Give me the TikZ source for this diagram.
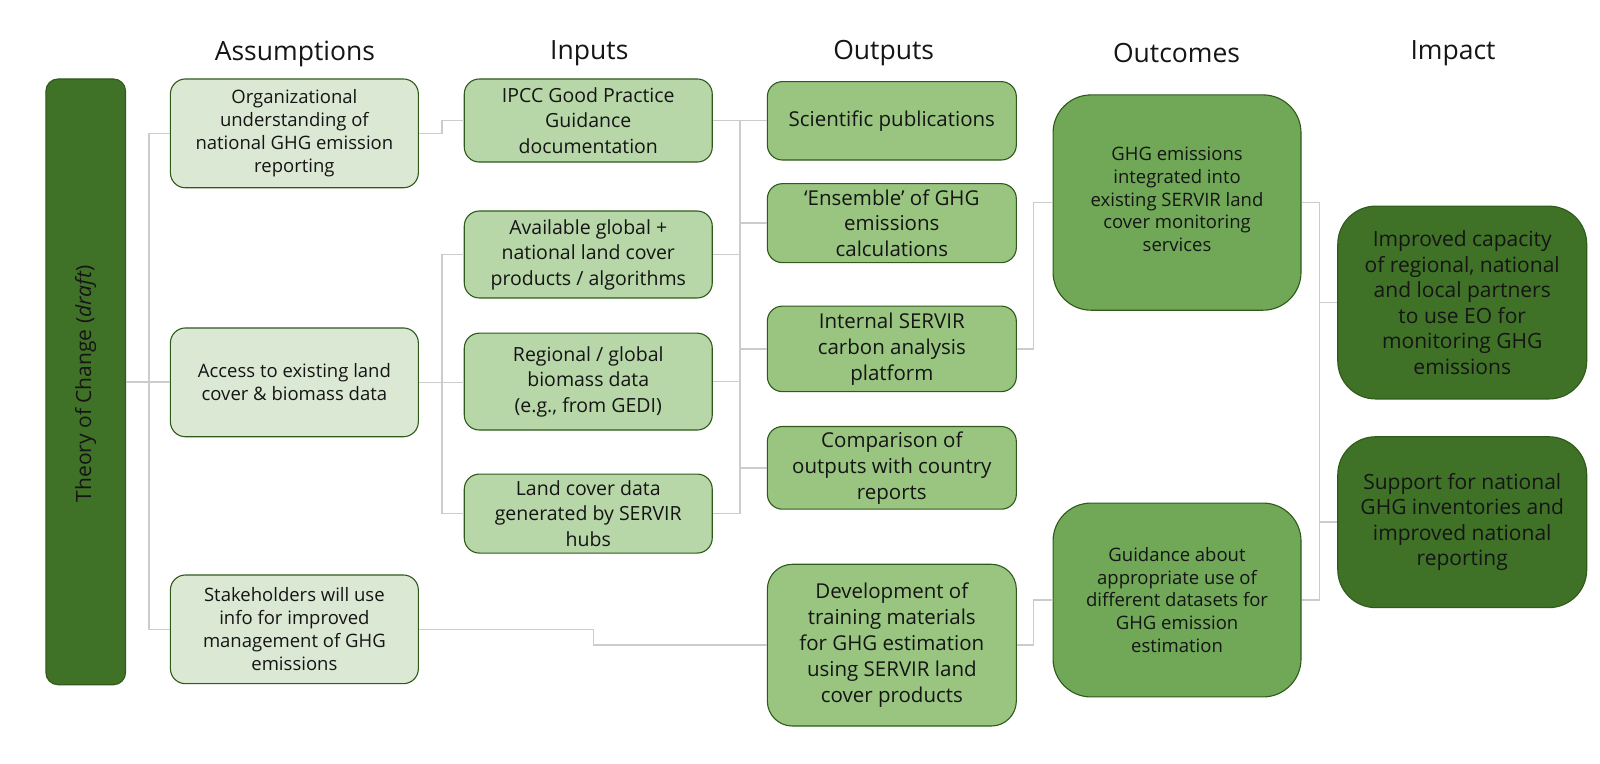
\documentclass[tikz,border=0pt]{standalone}
\usepackage{fontspec}
\setmainfont{Open Sans}
\usetikzlibrary{fit}
\definecolor{dkgreen}{HTML}{3F7127}
\definecolor{ocgreen}{HTML}{70A857}
\definecolor{opgreen}{HTML}{99C580}
\definecolor{ipgreen}{HTML}{B8D7A8}
\definecolor{asgreen}{HTML}{DBE9D4}
\definecolor{bdgreen}{HTML}{2E5A1A}
\definecolor{conncol}{HTML}{CCCCCC}
\definecolor{txtcol}{HTML}{151515}
\tikzset{
  box/.style={draw=bdgreen, line width=1.1pt, inner sep=0pt},
  lbl/.style={inner sep=0pt, align=center, text=txtcol},
  asbox/.style={box, fill=asgreen, rounded corners=15pt},
  ipbox/.style={box, fill=ipgreen, rounded corners=15pt},
  opbox/.style={box, fill=opgreen, rounded corners=15pt},
  ocbox/.style={box, fill=ocgreen, rounded corners=38pt},
  imbox/.style={box, fill=dkgreen, rounded corners=38pt},
  astext/.style={lbl, font=\fontsize{18.5}{23}\selectfont},
  iptext/.style={lbl, font=\fontsize{19.5}{25.5}\selectfont},
  optext/.style={lbl, font=\fontsize{20.5}{25.8}\selectfont},
  octext/.style={lbl, font=\fontsize{18.5}{22.7}\selectfont},
  imtext/.style={lbl, font=\fontsize{21}{25.5}\selectfont},
  hdr/.style={font=\fontsize{26.5}{30}\selectfont, text=txtcol, inner sep=0pt},
  conn/.style={draw=conncol, line width=1.5pt}
}
\begin{document}
\begin{tikzpicture}[x=1.0204pt, y=-1.0204pt]
\path[use as bounding box] (0,0) rectangle (1568,748.7);

% headers
\node[hdr] (h1) at (289,52.4) {Assumptions};
\node[hdr] (h2) at (577.5,52.4) {Inputs};
\node[hdr] (h3) at (866,52.4) {Outputs};
\node[hdr] (h4) at (1153,52.4) {Outcomes};
\node[hdr] (h5) at (1424,52.4) {Impact};

% coordinates for buses
\coordinate (bus1) at (146,0);
\coordinate (bus2) at (433,0);
\coordinate (bus3) at (725,0);
\coordinate (bus4) at (1013,0);
\coordinate (bus5) at (581.5,0);
\coordinate (bus6) at (1293,0);

% theory of change bar
\node[box, fill=dkgreen, rounded corners=12pt, fit={(45,77.4) (123,671)}] (toc) {};
\node[lbl, rotate=90, font=\fontsize{21}{25}\selectfont] (toct) at (84,376) {Theory of Change (\textit{draft})};

% assumptions
\node[asbox, fit={(167,77.4) (410,184)}] (a1) {};
\node[astext] (a1t) at (a1.center) {Organizational\\understanding of\\national GHG emission\\reporting};
\node[asbox, fit={(167,321.4) (410,428)}] (a2) {};
\node[astext] (a2t) at (a2.center) {Access to existing land\\cover \& biomass data};
\node[asbox, fit={(167,563.5) (410,670)}] (a3) {};
\node[astext] (a3t) at (a3.center) {Stakeholders will use\\info for improved\\management of GHG\\emissions};

% inputs
\node[ipbox, fit={(455,77.4) (698,158.8)}] (i1) {};
\node[iptext] (i1t) at (i1.center) {IPCC Good Practice\\Guidance\\documentation};
\node[ipbox, fit={(455,206.8) (698,292)}] (i2) {};
\node[iptext] (i2t) at (i2.center) {Available global +\\national land cover\\products / algorithms};
\node[ipbox, fit={(455,326.5) (698,421.4)}] (i3) {};
\node[iptext] (i3t) at (i3.center) {Regional / global\\biomass data\\(e.g., from GEDI)};
\node[ipbox, fit={(455,464.6) (698,542)}] (i4) {};
\node[iptext] (i4t) at (i4.center) {Land cover data\\generated by SERVIR\\hubs};

% outputs
\node[opbox, fit={(752,80) (996,156.8)}] (o1) {};
\node[optext] (o1t) at (o1.center) {Scientific publications};
\node[opbox, fit={(752,180) (996,257.4)}] (o2) {};
\node[optext] (o2t) at (o2.center) {‘Ensemble’ of GHG\\emissions\\calculations};
\node[opbox, fit={(752,300) (996,383.8)}] (o3) {};
\node[optext] (o3t) at (o3.center) {Internal SERVIR\\carbon analysis\\platform};
\node[opbox, fit={(752,418) (996,499)}] (o4) {};
\node[optext] (o4t) at (o4.center) {Comparison of\\outputs with country\\reports};
\node[opbox, rounded corners=25pt, fit={(752,553) (996,711.5)}] (o5) {};
\node[optext] (o5t) at (o5.center) {Development of\\training materials\\for GHG estimation\\using SERVIR land\\cover products};

% outcomes
\node[ocbox, fit={(1032,93) (1275,304)}] (c1) {};
\node[octext] (c1t) at ([yshift=3pt]c1.center) {GHG emissions\\integrated into\\existing SERVIR land\\cover monitoring\\services};
\node[ocbox, fit={(1032,493) (1275,683)}] (c2) {};
\node[octext] (c2t) at (c2.center) {Guidance about\\appropriate use of\\different datasets for\\GHG emission\\estimation};

% impact
\node[imbox, fit={(1311,202) (1555,391)}] (m1) {};
\node[imtext] (m1t) at (m1.center) {Improved capacity\\of regional, national\\and local partners\\to use EO for\\monitoring GHG\\emissions};
\node[imbox, fit={(1311,428) (1555,595.5)}] (m2) {};
\node[imtext] (m2t) at (m2.center) {Support for national\\GHG inventories and\\improved national\\reporting};

% connectors
\draw[conn] (toc.east) -- (toc.east -| a2.west);
\draw[conn] (a1.west) -- (a1.west -| bus1) -- (a3.west -| bus1) -- (a3.west);
\draw[conn] (a1.east) -- (a1.east -| bus2) |- (i1.west);
\draw[conn] (a2.east) -- (a2.east -| i3.west);
\draw[conn] (i2.west) -- (i2.west -| bus2) -- (i4.west -| bus2) -- (i4.west);
\draw[conn] (i1.east) -- (i1.east -| o1.west);
\draw[conn] (i1.east -| bus3) -- (i4.east -| bus3);
\draw[conn] (i2.east) -- (i2.east -| bus3);
\draw[conn] (i3.east) -- (i3.east -| bus3);
\draw[conn] (i4.east) -- (i4.east -| bus3);
\draw[conn] (o2.west -| bus3) -- (o2.west);
\draw[conn] (o3.west -| bus3) -- (o3.west);
\draw[conn] (o4.west -| bus3) -- (o4.west);
\draw[conn] (a3.east) -- (a3.east -| bus5) |- (o5.west);
\draw[conn] (o3.east) -- (o3.east -| bus4) |- (c1.west);
\draw[conn] (o5.east) -- (o5.east -| bus4) |- (c2.west);
\draw[conn] (c1.east) -- (c1.east -| bus6) -- (c2.east -| bus6) -- (c2.east);
\draw[conn] (m1.west -| bus6) -- (m1.west);
\draw[conn] (m2.west -| bus6) -- (m2.west);
\end{tikzpicture}
\end{document}
